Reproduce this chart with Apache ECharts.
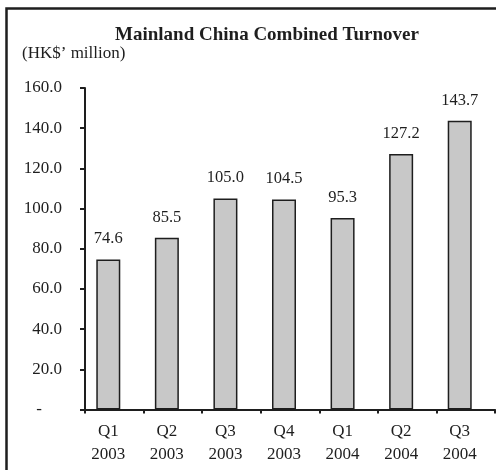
<!DOCTYPE html>
<html>
<head>
<meta charset="utf-8">
<script src="https://cdn.jsdelivr.net/npm/echarts@6/dist/echarts.min.js"></script>
<style>
  html, body { margin: 0; padding: 0; background: #fff; }
  #chart { width: 496px; height: 470px; }
</style>
</head>
<body>
<div id="chart"></div>
<script>
// Quarterly combined turnover, HK$ million
const quarters = ['Q1', 'Q2', 'Q3', 'Q4', 'Q1', 'Q2', 'Q3'];
const years = ['2003', '2003', '2003', '2003', '2004', '2004', '2004'];
const turnover = [74.6, 85.5, 105.0, 104.5, 95.3, 127.2, 143.7];
const yTicks = [0, 20, 40, 60, 80, 100, 120, 140, 160];

const categories = quarters.map((q, i) => q + '\n' + years[i]);
const serif = '"Liberation Serif", "Times New Roman", serif';
const ink = '#1e1e1e';

const chart = echarts.init(document.getElementById('chart'), null, { renderer: 'canvas' });
chart.setOption({
  animation: false,
  backgroundColor: '#fff',
  title: {
    text: 'Mainland China Combined Turnover',
    left: 262, top: 21, textAlign: 'center',
    textStyle: { fontFamily: serif, fontSize: 19, fontWeight: 'bold', color: ink }
  },
  graphic: [
    { type: 'rect', shape: { x: 6.5, y: 8.5, width: 700, height: 700 },
      style: { fill: 'none', stroke: ink, lineWidth: 2.5 }, silent: true },
    { type: 'text', left: 22, top: 45,
      style: { text: '(HK$\u2019 million)', font: '17px ' + serif, fill: ink } }
  ],
  grid: { left: 85, right: 1, top: 88, bottom: 60.5, containLabel: false },
  xAxis: {
    type: 'category',
    data: categories,
    boundaryGap: true,
    axisLine: { lineStyle: { color: ink, width: 2 } },
    axisTick: { show: true, length: 4, alignWithLabel: false, lineStyle: { color: ink, width: 2 } },
    axisLabel: {
      fontFamily: serif, fontSize: 17, color: ink, lineHeight: 23,
      margin: 11, padding: [0, 12, 0, 0], interval: 0
    }
  },
  yAxis: {
    type: 'value',
    min: yTicks[0], max: yTicks[yTicks.length - 1], interval: 20,
    splitLine: { show: false },
    axisLine: { show: true, lineStyle: { color: ink, width: 2 } },
    axisTick: { show: true, length: 5, lineStyle: { color: ink, width: 2 } },
    axisLabel: {
      fontFamily: serif, fontSize: 17, color: ink, margin: 23,
      formatter: v => v === 0 ? '{d|-}' : v.toFixed(1),
      rich: { d: { fontFamily: serif, fontSize: 17, color: ink, padding: [0, 20, 0, 0] } }
    }
  },
  series: [
    {
      type: 'bar',
      data: turnover,
      barWidth: 24,
      barGap: '-50%',
      itemStyle: { color: '#c8c8c8', borderColor: ink, borderWidth: 1.5 },
      label: {
        show: true, position: 'top', distance: 12,
        fontFamily: serif, fontSize: 16.5, color: ink,
        formatter: p => p.value.toFixed(1)
      }
    },
    { type: 'bar', data: [], barWidth: 24 }
  ]
});
</script>
</body>
</html>
